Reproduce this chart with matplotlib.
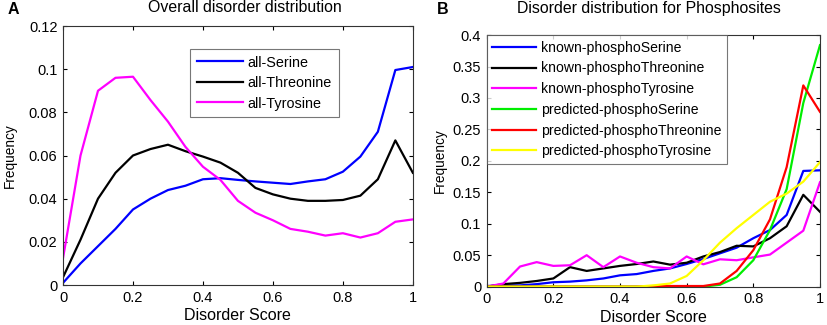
import numpy as np
import matplotlib
matplotlib.use("Agg")
import matplotlib.pyplot as plt

plt.rcParams["font.family"] = ["Liberation Sans", "DejaVu Sans"]

score = [0, 0.05, 0.1, 0.15, 0.2, 0.25, 0.3, 0.35, 0.4, 0.45, 0.5,
         0.55, 0.6, 0.65, 0.7, 0.75, 0.8, 0.85, 0.9, 0.95, 1.0]

# panel A
all_ser = [0.001, 0.010, 0.018, 0.026, 0.035, 0.040, 0.044, 0.046, 0.049, 0.0495, 0.0487,
           0.048, 0.0474, 0.0468, 0.048, 0.049, 0.0525, 0.0595, 0.071, 0.0996, 0.101]
all_thr = [0.0036, 0.021, 0.040, 0.052, 0.060, 0.063, 0.065, 0.062, 0.0595, 0.0567, 0.052,
           0.045, 0.042, 0.040, 0.039, 0.039, 0.0394, 0.0414, 0.049, 0.067, 0.052]
all_tyr = [0.0124, 0.060, 0.090, 0.096, 0.0965, 0.0857, 0.0757, 0.064, 0.0548, 0.0487, 0.039,
           0.0335, 0.030, 0.026, 0.0247, 0.0229, 0.024, 0.022, 0.024, 0.0293, 0.0304]

# panel B
known_ser = [0.001, 0.002, 0.002, 0.004, 0.007, 0.008, 0.010, 0.013, 0.018, 0.020, 0.025,
             0.029, 0.036, 0.044, 0.053, 0.062, 0.077, 0.090, 0.114, 0.184, 0.185]
known_thr = [0.0, 0.004, 0.006, 0.009, 0.013, 0.031, 0.025, 0.029, 0.033, 0.036, 0.040,
             0.035, 0.038, 0.048, 0.055, 0.065, 0.064, 0.077, 0.096, 0.146, 0.119]
known_tyr = [0.0, 0.005, 0.032, 0.039, 0.033, 0.034, 0.050, 0.031, 0.048, 0.038, 0.031,
             0.029, 0.048, 0.0355, 0.0435, 0.042, 0.0466, 0.051, 0.070, 0.089, 0.166]
pred_ser = [0, 0, 0, 0, 0, 0, 0, 0, 0, 0, 0,
            0, 0, 0, 0.003, 0.015, 0.042, 0.090, 0.155, 0.292, 0.384]
pred_thr = [0, 0, 0, 0, 0, 0, 0, 0, 0, 0, 0.001,
            0.001, 0.001, 0.001, 0.005, 0.025, 0.058, 0.107, 0.190, 0.320, 0.278]
pred_tyr = [0, 0, 0, 0, 0, 0, 0, 0, 0, 0, 0.002,
            0.005, 0.017, 0.042, 0.070, 0.093, 0.114, 0.135, 0.148, 0.167, 0.198]

x_ticks = [0, 0.2, 0.4, 0.6, 0.8, 1.0]
x_labels = ["0", "0.2", "0.4", "0.6", "0.8", "1"]
ya_ticks = [0, 0.02, 0.04, 0.06, 0.08, 0.1, 0.12]
ya_labels = ["0", "0.02", "0.04", "0.06", "0.08", "0.1", "0.12"]
yb_ticks = [0, 0.05, 0.1, 0.15, 0.2, 0.25, 0.3, 0.35, 0.4]
yb_labels = ["0", "0.05", "0.1", "0.15", "0.2", "0.25", "0.3", "0.35", "0.4"]


def matlab_axes(ax, ylab_x):
    ax.tick_params(direction="in", top=True, right=True, length=3, width=0.8,
                   labelsize=10.5, pad=4)
    for s in ax.spines.values():
        s.set_linewidth(0.8)
        s.set_color("#333333")
    ax.set_xlabel("Disorder Score", fontsize=11.5, labelpad=2.5)
    ax.set_ylabel("Frequency", fontsize=9.8)
    ax.yaxis.set_label_coords(ylab_x, 0.5)


def matlab_legend(ax, **kw):
    leg = ax.legend(frameon=True, fancybox=False, borderaxespad=0,
                    handletextpad=0.35, **kw)
    leg.get_frame().set_edgecolor("#555555")
    leg.get_frame().set_linewidth(0.8)
    return leg


fig = plt.figure(figsize=(8.27, 3.25), dpi=100)
axA = fig.add_axes([0.0762, 0.123, 0.423, 0.797])
axB = fig.add_axes([0.5885, 0.118, 0.403, 0.774])

lw = 1.6
axA.plot(score, all_ser, color="#0000ff", lw=lw, label="all-Serine")
axA.plot(score, all_thr, color="black", lw=lw, label="all-Threonine")
axA.plot(score, all_tyr, color="#ff00ff", lw=lw, label="all-Tyrosine")
axA.set_xlim(0, 1)
axA.set_ylim(0, 0.12)
axA.set_xticks(x_ticks, x_labels)
axA.set_yticks(ya_ticks, ya_labels)
matlab_axes(axA, -0.132)
matlab_legend(axA, loc="upper left", bbox_to_anchor=(0.363, 0.911), fontsize=10.4,
              handlelength=3.2, borderpad=0.45, labelspacing=0.45)

axB.plot(score, known_ser, color="#0000ff", lw=lw, label="known-phosphoSerine")
axB.plot(score, known_thr, color="black", lw=lw, label="known-phosphoThreonine")
axB.plot(score, known_tyr, color="#ff00ff", lw=lw, label="known-phosphoTyrosine")
axB.plot(score, pred_ser, color="#00ee00", lw=lw, label="predicted-phosphoSerine")
axB.plot(score, pred_thr, color="#ff0000", lw=lw, label="predicted-phosphoThreonine")
axB.plot(score, pred_tyr, color="#ffff00", lw=lw, label="predicted-phosphoTyrosine")
axB.set_xlim(0, 1)
axB.set_ylim(0, 0.4)
axB.set_xticks(x_ticks, x_labels)
axB.set_yticks(yb_ticks, yb_labels)
matlab_axes(axB, -0.118)
matlab_legend(axB, loc="upper left", fontsize=10.1, handlelength=3.1,
              borderpad=0.4, labelspacing=0.48)

fig.text(245 / 827, 1 - 7 / 325, "Overall disorder distribution", fontsize=11.4,
         ha="center", va="center")
fig.text(649 / 827, 1 - 9 / 325, "Disorder distribution for Phosphosites",
         fontsize=11.4, ha="center", va="center")
fig.text(8 / 827, 1 - 10 / 325, "A", fontsize=11.5, fontweight="bold", va="center")
fig.text(437 / 827, 1 - 9 / 325, "B", fontsize=11.5, fontweight="bold", va="center")

fig.savefig("out.png", dpi=100)
